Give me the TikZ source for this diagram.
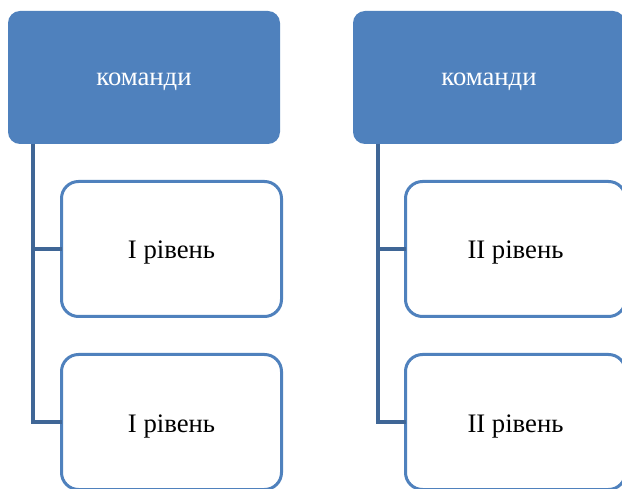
\documentclass[tikz,border=0pt]{standalone}
\usepackage{fontspec}
\setmainfont{Liberation Serif}
\definecolor{topfill}{HTML}{4F81BD}
\definecolor{childline}{HTML}{4F81BD}
\definecolor{conn}{HTML}{3F6696}
\begin{document}
\begin{tikzpicture}[x=1pt,y=-1pt,
  topbox/.style={draw=none, fill=topfill, rounded corners=12pt, minimum width=272pt, minimum height=133pt, inner sep=0pt, outer sep=0pt, text=white, font=\fontsize{26.7}{30}\selectfont, text height=17pt, text depth=0pt},
  childbox/.style={draw=childline, line width=3pt, fill=white, rounded corners=17pt, minimum width=220pt, minimum height=135pt, inner sep=0pt, outer sep=0pt, font=\fontsize{26.7}{30}\selectfont, text height=20pt, text depth=0pt},
  connline/.style={draw=conn, line width=3.3pt}]
\useasboundingbox (0,0) rectangle (622,489);
\clip (0,0) rectangle (622,489);
\fill[white] (0,0) rectangle (622,489);
\node[topbox] (t1) at (144,77.5) {команди};
\node[topbox] (t2) at (489,77.5) {команди};
\node[childbox] (c11) at (171.5,249) {I рівень};
\node[childbox] (c12) at (171.5,422) {I рівень};
\node[childbox] (c21) at (515.5,249) {II рівень};
\node[childbox] (c22) at (515.5,422) {II рівень};
\draw[connline] ([xshift=25pt]t1.south west) |- (c11.west);
\draw[connline] ([xshift=25pt]t1.south west) |- (c12.west);
\draw[connline] ([xshift=25pt]t2.south west) |- (c21.west);
\draw[connline] ([xshift=25pt]t2.south west) |- (c22.west);
\end{tikzpicture}
\end{document}
